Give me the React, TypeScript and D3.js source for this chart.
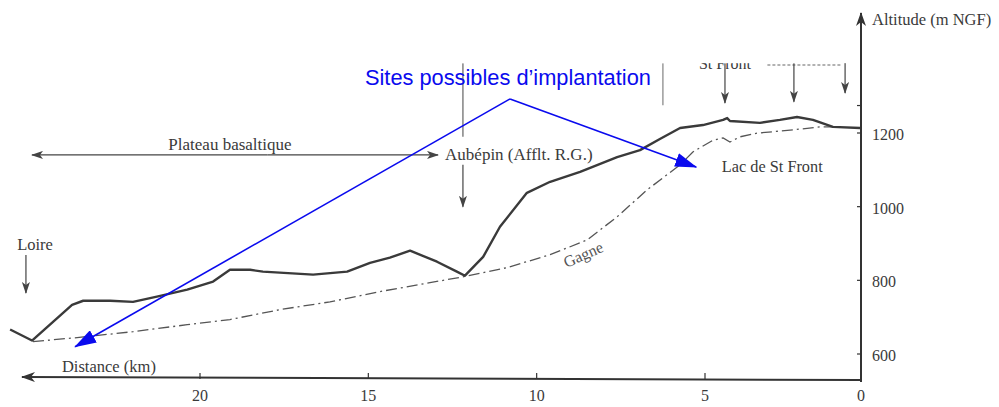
import React, { useRef, useEffect } from "react";
import * as d3 from "d3";

// longitudinal profile, distance in km (0 = right), altitude in m NGF
const profileKm = [25.64, 24.99, 23.8, 23.47, 22.67, 21.99, 21.28, 20.38, 19.61, 19.11, 18.51, 18.13, 16.64, 15.63, 14.95, 14.36, 13.76, 12.96, 12.37, 12.13, 11.59, 11.09, 10.29, 9.6, 8.71, 7.61, 6.93, 6.34, 5.74, 5.06, 4.42, 4.29, 4.2, 3.24, 2.6, 2.05, 1.54, 0.9, 0.03];
const profileAlt = [672, 642, 739, 750, 750, 747, 761, 780, 802, 834, 834, 829, 821, 829, 853, 867, 886, 856, 829, 818, 869, 951, 1043, 1073, 1100, 1140, 1159, 1189, 1219, 1227, 1241, 1246, 1238, 1233, 1241, 1249, 1241, 1222, 1219];

// river Gagne (dash-dot)
const gagneKm = [24.96, 23.65, 21.99, 20.38, 19.11, 17.62, 16.14, 14.65, 13.17, 12.19, 10.88, 9.6, 8.5, 7.61, 6.72, 5.74, 5.36, 4.74, 4.42, 4.2, 3.88, 3.33, 2.18, 1.31, 0.77];
const gagneAlt = [639, 650, 666, 685, 699, 726, 747, 775, 799, 815, 840, 875, 915, 978, 1051, 1119, 1154, 1186, 1192, 1181, 1195, 1205, 1214, 1222, 1222];

const xTicks = [20, 15, 10, 5, 0];
const yTicks = [1200, 1000, 800, 600];

const serif = "'Liberation Serif', 'DejaVu Serif', serif";
const sans = "'Liberation Sans', Arial, sans-serif";
const ink = "#3a3a3a";
const blue = "#0a0aee";

const App: React.FC = () => {
    const svgRef = useRef<SVGSVGElement | null>(null);

    useEffect(() => {
        document.body.style.margin = "0";
        const svg = d3.select(svgRef.current);
        svg.selectAll("*").remove();

        const x = d3.scaleLinear().domain([0, 5, 20]).range([861, 705, 200]);
        const y = d3.scaleLinear().domain([600, 1200]).range([356, 135]);
        const x0 = x(0);
        const yBase = 380;

        const defs = svg.append("defs");
        defs.append("marker")
            .attr("id", "grayHead")
            .attr("viewBox", "0 0 12 8")
            .attr("refX", 11)
            .attr("refY", 4)
            .attr("markerWidth", 12)
            .attr("markerHeight", 8)
            .attr("markerUnits", "userSpaceOnUse")
            .attr("orient", "auto")
            .append("path")
            .attr("d", "M0,0 L12,4 L0,8 L3,4 Z")
            .attr("fill", "#444");
        defs.append("marker")
            .attr("id", "axisHead")
            .attr("viewBox", "0 0 14 10")
            .attr("refX", 13)
            .attr("refY", 5)
            .attr("markerWidth", 14)
            .attr("markerHeight", 10)
            .attr("markerUnits", "userSpaceOnUse")
            .attr("orient", "auto")
            .append("path")
            .attr("d", "M0,0 L14,5 L0,10 L4,5 Z")
            .attr("fill", "#333");
        defs.append("marker")
            .attr("id", "blueHead")
            .attr("viewBox", "0 0 22 14")
            .attr("refX", 21)
            .attr("refY", 7)
            .attr("markerWidth", 22)
            .attr("markerHeight", 14)
            .attr("markerUnits", "userSpaceOnUse")
            .attr("orient", "auto")
            .append("path")
            .attr("d", "M0,0 L22,7 L0,14 Z")
            .attr("fill", blue);

        const txt = (px: number, py: number, s: string, size = 17, anchor = "start") =>
            svg.append("text")
                .attr("x", px)
                .attr("y", py)
                .attr("font-family", serif)
                .attr("font-size", size)
                .attr("fill", ink)
                .attr("text-anchor", anchor)
                .text(s);

        const seg = (k1: number, a1: number, k2: number, a2: number, head: string | null, w = 1.2, col = "#444") => {
            const l = svg.append("line")
                .attr("x1", x(k1)).attr("y1", y(a1))
                .attr("x2", x(k2)).attr("y2", y(a2))
                .attr("stroke", col)
                .attr("stroke-width", w);
            if (head) l.attr("marker-end", `url(#${head})`);
            return l;
        };

        // annotations (black & white scan)
        txt(x(25.43), y(888), "Loire", 16.5);
        seg(25.17, 874, 25.17, 771, "grayHead");

        txt(x(19.11), y(1159), "Plateau basaltique", 17, "middle");
        seg(18.0, 1146, 24.99, 1146, "grayHead");
        seg(18.0, 1146, 12.93, 1146, "grayHead");

        seg(12.19, 1395, 12.19, 1195, null, 1.1, "#555");
        txt(x(12.72), y(1132), "Aubépin (Afflt. R.G.)", 17);
        seg(12.19, 1119, 12.19, 1005, "grayHead");

        seg(6.25, 1395, 6.25, 1281, null, 1.1, "#777");
        txt(x(4.36), y(1378), "St Front", 16, "middle");
        svg.append("line")
            .attr("x1", x(3.0)).attr("x2", x(0.6))
            .attr("y1", y(1390)).attr("y2", y(1390))
            .attr("stroke", "#999")
            .attr("stroke-dasharray", "3 2")
            .attr("stroke-width", 1.5);
        seg(4.36, 1395, 4.36, 1287, "grayHead");
        seg(2.15, 1395, 2.15, 1290, "grayHead");
        seg(0.51, 1400, 0.51, 1314, "grayHead");

        // the top of the scan is cut off
        svg.append("rect")
            .attr("x", 340).attr("y", 0)
            .attr("width", x0 - 346).attr("height", y(1395))
            .attr("fill", "#fff");

        txt(x(4.46), y(1100), "Lac de St Front", 16.3);

        const gx = x(8.55), gy = y(862);
        svg.append("text")
            .attr("transform", `translate(${gx},${gy}) rotate(-24)`)
            .attr("font-family", serif)
            .attr("font-size", 16)
            .attr("fill", "#555")
            .attr("text-anchor", "middle")
            .text("Gagne");

        // axes
        svg.append("line")
            .attr("x1", x0).attr("y1", yBase + 2)
            .attr("x2", x0).attr("y2", 13)
            .attr("stroke", "#333").attr("stroke-width", 2)
            .attr("marker-end", "url(#axisHead)");
        svg.append("line")
            .attr("x1", x0).attr("y1", yBase)
            .attr("x2", 22).attr("y2", yBase - 3)
            .attr("stroke", "#333").attr("stroke-width", 2)
            .attr("marker-end", "url(#axisHead)");

        xTicks.forEach((t) => {
            if (t !== 0) {
                svg.append("line")
                    .attr("x1", x(t)).attr("x2", x(t))
                    .attr("y1", yBase - 1).attr("y2", yBase - 7)
                    .attr("stroke", "#333").attr("stroke-width", 1.2);
            }
            txt(x(t), 401, String(t), 16, "middle");
        });
        yTicks.forEach((v) => {
            svg.append("line")
                .attr("x1", x0 - 4).attr("x2", x0)
                .attr("y1", y(v) - 2).attr("y2", y(v) - 2)
                .attr("stroke", "#333").attr("stroke-width", 1.2);
            txt(x0 + 11, y(v) + 5, String(v), 16);
        });
        svg.append("line")
            .attr("x1", x0 - 4).attr("x2", x0)
            .attr("y1", y(1280)).attr("y2", y(1280))
            .attr("stroke", "#333").attr("stroke-width", 1.2);

        txt(x(24.1), y(557), "Distance (km)", 16.5);
        txt(x0 + 11, 25, "Altitude (m NGF)", 16.5);

        // Gagne river profile
        const gagneLine = d3.line<number>()
            .x((_, i) => x(gagneKm[i]))
            .y((d) => y(d));
        svg.append("path")
            .datum(gagneAlt)
            .attr("d", gagneLine)
            .attr("fill", "none")
            .attr("stroke", "#555")
            .attr("stroke-width", 1.3)
            .attr("stroke-dasharray", "11 4 2 4");

        // ground profile
        const profileLine = d3.line<number>()
            .x((_, i) => x(profileKm[i]))
            .y((d) => y(d));
        svg.append("path")
            .datum(profileAlt)
            .attr("d", profileLine)
            .attr("fill", "none")
            .attr("stroke", ink)
            .attr("stroke-width", 2.4)
            .attr("stroke-linejoin", "round");

        // blue overlay
        seg(10.79, 1298, 23.71, 625, "blueHead", 1.6, blue);
        seg(10.79, 1298, 5.26, 1113, "blueHead", 1.6, blue);
        svg.append("text")
            .attr("x", x(15.1))
            .attr("y", y(1336))
            .attr("font-family", sans)
            .attr("font-size", 21.8)
            .attr("fill", blue)
            .text("Sites possibles d’implantation");

        return () => {
            svg.selectAll("*").remove();
        };
    }, []);

    return <svg ref={svgRef} width={999} height={407} style={{ display: "block", background: "#fff" }}></svg>;
};

export default App;
